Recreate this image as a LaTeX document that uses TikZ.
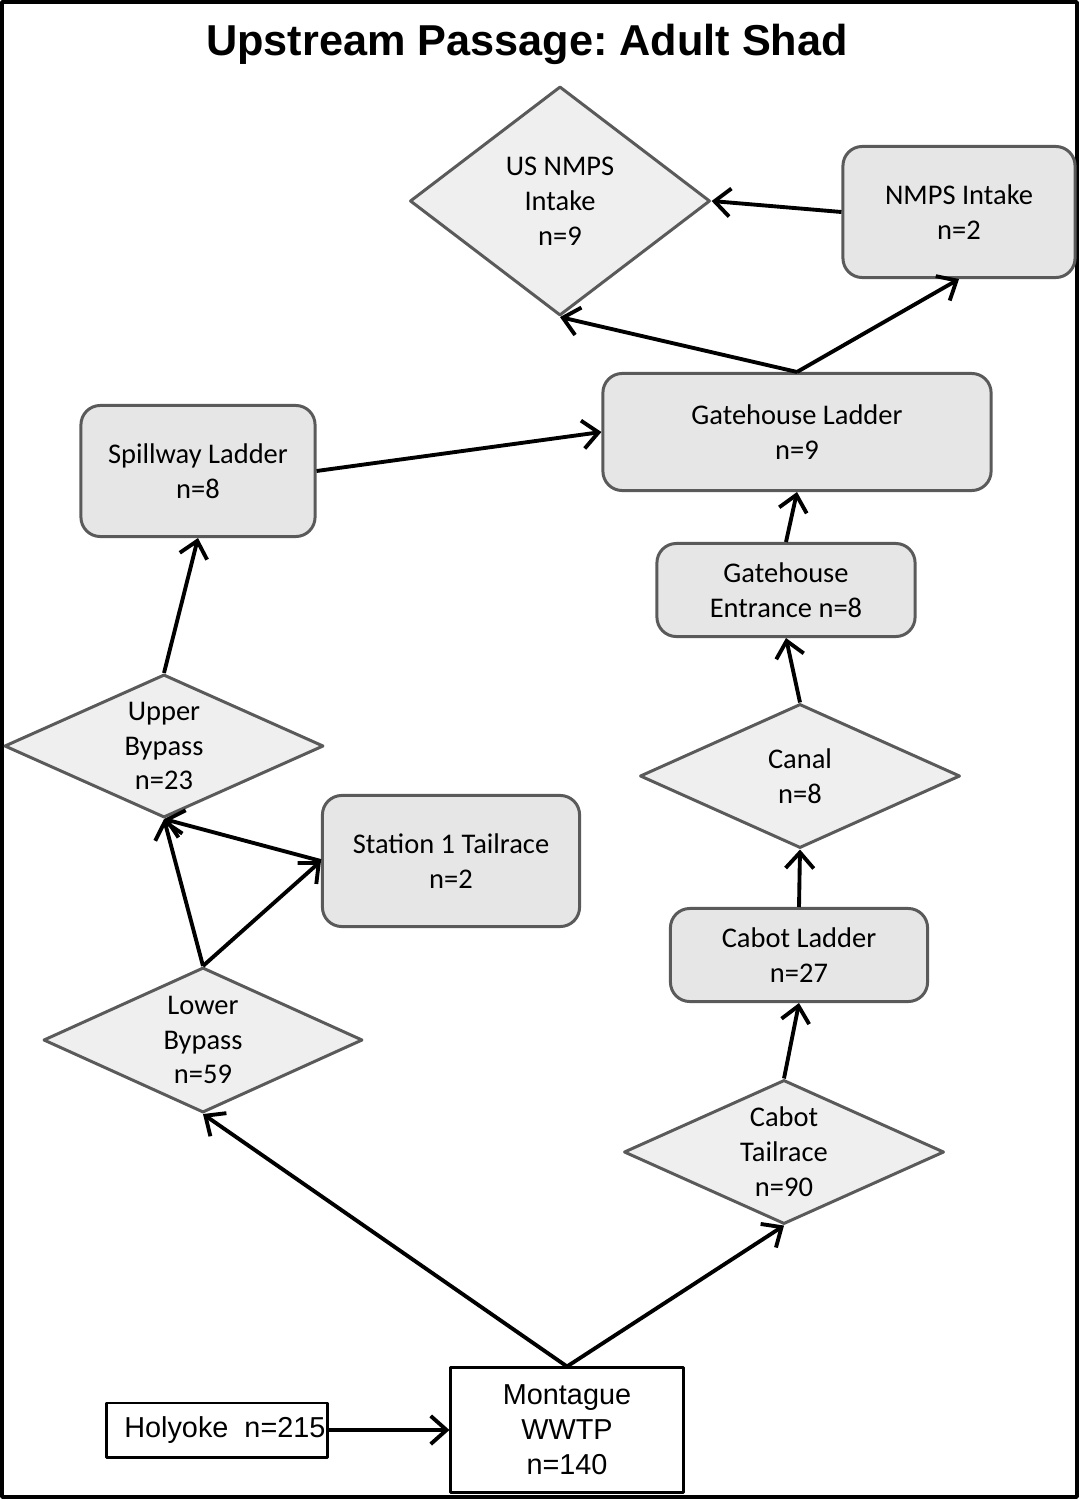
\documentclass[tikz,border=0pt]{standalone}
\usepackage{fontspec}
\setmainfont{Carlito}
\newfontfamily\arialfont{Liberation Sans}
\usetikzlibrary{shapes.geometric,arrows.meta}
\definecolor{edgegray}{HTML}{5A5A5A}
\definecolor{boxfill}{HTML}{E6E6E6}
\definecolor{diafill}{HTML}{EFEFEF}

\begin{document}
\begin{tikzpicture}[x=0.01cm,y=-0.01cm,line join=round,
        font=\fontsize{8.1}{9.9}\selectfont,
        stage/.style={draw=edgegray,fill=boxfill,line width=0.85pt,rounded corners=5.5pt,align=center},
        choice/.style={diamond,draw=edgegray,fill=diafill,line width=0.85pt,inner sep=0pt,align=center},
        site/.style={draw=black,fill=white,line width=0.85pt,align=center,font=\arialfont\fontsize{8.2}{9.9}\selectfont},
        move/.style={-{Straight Barb[length=4.5pt,width=8pt]},line width=1.1pt}] % Adult shad routes
       \useasboundingbox (0,0) rectangle (1079,1500);
       \draw[line width=1pt] (2,2) rectangle (1077,1497);
       \node (title) at (527,44) {\arialfont\bfseries\frenchspacing\fontsize{12.3}{14}\selectfont Upstream Passage: Adult Shad};
       % decision points
        \node[choice,aspect=1.31,minimum width=3cm,minimum height=2.29cm] (usnmps) at (560,201) {US NMPS\\Intake\\n=9};
        \node[choice,aspect=2.22,minimum width=3.2cm,minimum height=1.44cm] (canal) at (800,776) {Canal\\n=8};
        \node[choice,aspect=2.23,minimum width=3.19cm,minimum height=1.43cm] (upper) at (164,746) {Upper\\Bypass\\n=23};
        \node[choice,aspect=2.2,minimum width=3.19cm,minimum height=1.45cm] (lower) at (203,1040) {Lower\\Bypass\\n=59};
        \node[choice,aspect=2.22,minimum width=3.2cm,minimum height=1.44cm] (cabottail) at (784,1152) {Cabot\\Tailrace\\n=90};
       % ladders and outlets
        \node[stage,minimum width=2.32cm,minimum height=1.31cm] (nmps) at (959,212) {NMPS Intake\\n=2};
        \node[stage,minimum width=3.88cm,minimum height=1.17cm] (gateladder) at (797,432) {Gatehouse Ladder\\n=9};
        \node[stage,minimum width=2.34cm,minimum height=1.31cm] (spillway) at (198,471) {Spillway Ladder\\n=8};
        \node[stage,minimum width=2.58cm,minimum height=0.93cm] (gateentr) at (786,590) {Gatehouse\\Entrance n=8};
        \node[stage,minimum width=2.57cm,minimum height=1.31cm] (station) at (451,861) {Station 1 Tailrace\\n=2};
        \node[stage,minimum width=2.57cm,minimum height=0.93cm] (cabotladder) at (799,955) {Cabot Ladder\\n=27};
       % release sites
        \node[site,inner xsep=0pt,minimum width=2.21cm,minimum height=0.54cm] (holyoke) at (217,1430) {\hspace*{4.5pt}Holyoke\ \ n=215};
        \node[site,minimum width=2.32cm,minimum height=1.24cm] (montague) at (567,1430) {Montague\\WWTP\\n=140};
       % routes
        \draw[move] (holyoke.east) -- (montague.west);
        \draw[move] (montague.north) -- (lower.south);
        \draw[move] (montague.north) -- (cabottail.south);
        \draw[move] (cabottail.north) -- (cabotladder.south);
        \draw[move] (cabotladder.north) -- (canal.south);
        \draw[move] (canal.north) -- (gateentr.south);
        \draw[move] (gateentr.north) -- (gateladder.south);
        \draw[move] (lower.north) -- (upper.south);
        \draw[move] (lower.north) -- (station.west);
        \draw[move] (station.west) -- (upper.south);
        \draw[move] (upper.north) -- (spillway.south);
        \draw[move] (spillway.east) -- (gateladder.west);
        \draw[move] (gateladder.north) -- (usnmps.south);
        \draw[move] (gateladder.north) -- (nmps.south);
        \draw[move] (nmps.west) -- (usnmps.east);
   \end{tikzpicture}
\end{document}
